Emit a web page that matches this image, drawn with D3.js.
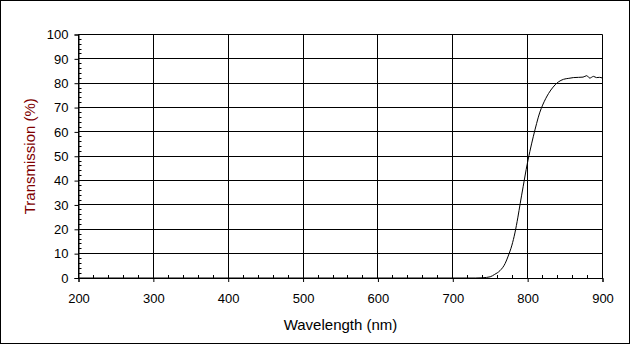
<!DOCTYPE html>
<html>
<head>
<meta charset="utf-8">
<script src="https://cdn.jsdelivr.net/npm/d3@7"></script>
<style>
  body { margin: 0; background: #fff; }
  svg { display: block; }
</style>
</head>
<body>
<div id="chart"></div>
<script>
var wavelength = [200, 300, 400, 500, 600, 700, 730, 740, 750, 756, 763, 770, 774, 779, 783,
                  787, 790, 794, 798, 803, 807.5, 812, 816, 820, 824, 828, 834, 841, 848, 855,
                  861, 868, 874, 879, 883, 888, 892, 896, 900];
var transmission = [0, 0, 0, 0, 0, 0, 0, 0.1, 0.5, 1.5, 3, 6, 9, 13.5, 18.5,
                    25, 30.5, 37.5, 44.5, 52, 58, 63.5, 67.8, 71, 73.6, 75.8, 78.4, 80.5, 81.6, 82,
                    82.3, 82.4, 82.5, 83.1, 82.1, 82.8, 82.3, 82.4, 82.1];

var xTicks = [200, 300, 400, 500, 600, 700, 800, 900];
var yTicks = [0, 10, 20, 30, 40, 50, 60, 70, 80, 90, 100];

var width = 630, height = 344;
var margin = {
        top : 34.5,
        right : 27.5,
        bottom : 66,
        left : 78.5
    };
var w = width - margin.left - margin.right;
var h = height - margin.top - margin.bottom;
var font = "Liberation Sans, Arial, sans-serif";

var svg = d3.select("#chart").append("svg")
    .attr("width", width).attr("height", height);

// outer frame
svg.append("rect").attr("x", 0.5).attr("y", 0.5)
    .attr("width", width - 1).attr("height", height - 1)
    .attr("fill", "#fff").attr("stroke", "#000");

var g = svg.append("g").attr("transform", "translate(" + margin.left + "," + margin.top + ")");

var x = d3.scaleLinear().domain([200, 900]).range([0, w]);
var y = d3.scaleLinear().domain([0, 100]).range([h, 0]);

// grid
g.selectAll("line.hgrid").data(yTicks).enter().append("line")
    .attr("class", "hgrid")
    .attr("x1", 0).attr("x2", w)
    .attr("y1", function (d) { return Math.round(y(d)); })
    .attr("y2", function (d) { return Math.round(y(d)); })
    .attr("stroke", "#000");
g.selectAll("line.vgrid").data(xTicks).enter().append("line")
    .attr("class", "vgrid")
    .attr("x1", function (d) { return Math.round(x(d)); })
    .attr("x2", function (d) { return Math.round(x(d)); })
    .attr("y1", 0).attr("y2", h)
    .attr("stroke", "#000");

// minor ticks
var xMinor = d3.range(200, 901, 20);
var yMinor = d3.range(0, 101, 2);
g.selectAll("line.xminor").data(xMinor).enter().append("line")
    .attr("x1", function (d) { return Math.round(x(d)); })
    .attr("x2", function (d) { return Math.round(x(d)); })
    .attr("y1", h).attr("y2", h - 3)
    .attr("stroke", "#000");
g.selectAll("line.yminor").data(yMinor).enter().append("line")
    .attr("x1", 0).attr("x2", 3)
    .attr("y1", function (d) { return Math.round(y(d)); })
    .attr("y2", function (d) { return Math.round(y(d)); })
    .attr("stroke", "#000");

// axes
var xAxis = d3.axisBottom(x).tickValues(xTicks).tickSize(4).tickPadding(12);
var yAxis = d3.axisLeft(y).tickValues(yTicks).tickSize(4).tickPadding(6);

var gx = g.append("g").attr("transform", "translate(0," + h + ")").call(xAxis);
var gy = g.append("g").call(yAxis);

[gx, gy].forEach(function (a) {
    a.select(".domain").attr("stroke", "#000");
    a.selectAll(".tick line").attr("stroke", "#000");
    a.selectAll(".tick text")
        .attr("font-family", font)
        .attr("font-size", "13px")
        .attr("fill", "#000");
});

// curve
var pts = wavelength.map(function (d, i) { return [d, transmission[i]]; });
var line = d3.line()
    .x(function (d) { return x(d[0]); })
    .y(function (d) { return y(d[1]); })
    .curve(d3.curveMonotoneX);
g.append("path").datum(pts)
    .attr("d", line)
    .attr("fill", "none")
    .attr("stroke", "#000")
    .attr("stroke-width", 1);

// titles
svg.append("text")
    .attr("x", margin.left + w / 2).attr("y", 330)
    .attr("text-anchor", "middle")
    .attr("font-family", font)
    .attr("font-size", "15px")
    .attr("fill", "#000")
    .text("Wavelength (nm)");

svg.append("text")
    .attr("transform", "translate(35," + (margin.top + h / 2) + ")rotate(-90)")
    .attr("text-anchor", "middle")
    .attr("font-family", font)
    .attr("font-size", "15px")
    .attr("fill", "#800000")
    .text("Transmission (%)");
</script>
</body>
</html>
